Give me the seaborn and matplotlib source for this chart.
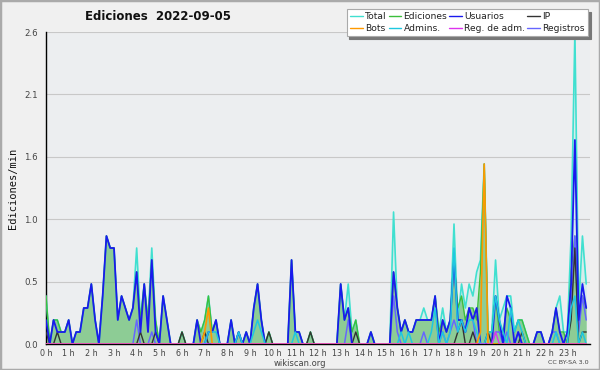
import matplotlib
matplotlib.use("Agg")
import matplotlib.pyplot as plt
import seaborn as sns
import numpy as np
from matplotlib.ticker import FixedLocator, MultipleLocator, FuncFormatter
from matplotlib.patches import Rectangle
from matplotlib.lines import Line2D

# time of each sample, minutes since 00:00 (10-minute bins)
minutes = list(range(0, 1440, 10))

# series values (edits per minute), 6 values per hour, 4 hours per line
total = [
 0.4,0.0,0.2,0.2,0.1,0.1, 0.2,0.0,0.1,0.1,0.3,0.3, 0.5,0.2,0.0,0.4,0.9,0.8, 0.8,0.2,0.4,0.3,0.2,0.3,
 0.8,0.2,0.5,0.2,0.8,0.2, 0.0,0.4,0.2,0.0,0.0,0.0, 0.1,0.0,0.0,0.0,0.2,0.1, 0.2,0.4,0.1,0.2,0.0,0.0,
 0.0,0.2,0.0,0.1,0.0,0.1, 0.0,0.3,0.5,0.2,0.0,0.1, 0.0,0.0,0.0,0.0,0.0,0.7, 0.1,0.1,0.0,0.0,0.1,0.0,
 0.0,0.0,0.0,0.0,0.0,0.0, 0.5,0.2,0.5,0.1,0.2,0.0, 0.0,0.0,0.1,0.0,0.0,0.0, 0.0,0.0,1.1,0.3,0.1,0.2,
 0.1,0.1,0.2,0.2,0.3,0.2, 0.2,0.4,0.1,0.3,0.1,0.2, 1.0,0.2,0.5,0.3,0.5,0.4, 0.6,0.7,1.5,0.1,0.1,0.7,
 0.2,0.3,0.4,0.4,0.1,0.2, 0.2,0.1,0.0,0.0,0.1,0.1, 0.0,0.0,0.1,0.3,0.4,0.1, 0.1,0.9,2.6,0.3,0.9,0.5,
]
edits = [
 0.4,0.0,0.2,0.2,0.1,0.1, 0.2,0.0,0.1,0.1,0.3,0.3, 0.5,0.2,0.0,0.4,0.9,0.8, 0.8,0.2,0.4,0.3,0.2,0.3,
 0.6,0.2,0.5,0.2,0.7,0.2, 0.0,0.4,0.2,0.0,0.0,0.0, 0.1,0.0,0.0,0.0,0.2,0.1, 0.2,0.4,0.1,0.2,0.0,0.0,
 0.0,0.2,0.0,0.1,0.0,0.1, 0.0,0.3,0.5,0.2,0.0,0.1, 0.0,0.0,0.0,0.0,0.0,0.7, 0.1,0.1,0.0,0.0,0.1,0.0,
 0.0,0.0,0.0,0.0,0.0,0.0, 0.5,0.2,0.3,0.1,0.2,0.0, 0.0,0.0,0.1,0.0,0.0,0.0, 0.0,0.0,0.6,0.3,0.1,0.2,
 0.1,0.1,0.2,0.2,0.2,0.2, 0.2,0.4,0.1,0.2,0.1,0.2, 0.7,0.3,0.4,0.2,0.3,0.3, 0.2,0.6,1.5,0.1,0.1,0.4,
 0.1,0.1,0.3,0.2,0.1,0.2, 0.2,0.1,0.0,0.0,0.1,0.1, 0.0,0.0,0.1,0.3,0.1,0.1, 0.0,0.6,0.9,0.2,0.4,0.3,
]
users = [
 0.2,0.0,0.2,0.1,0.1,0.1, 0.2,0.0,0.1,0.1,0.3,0.3, 0.5,0.2,0.0,0.4,0.9,0.8, 0.8,0.2,0.4,0.3,0.2,0.3,
 0.6,0.1,0.5,0.1,0.7,0.1, 0.0,0.4,0.2,0.0,0.0,0.0, 0.0,0.0,0.0,0.0,0.2,0.0, 0.0,0.1,0.1,0.2,0.0,0.0,
 0.0,0.2,0.0,0.1,0.0,0.1, 0.0,0.3,0.5,0.2,0.0,0.0, 0.0,0.0,0.0,0.0,0.0,0.7, 0.1,0.1,0.0,0.0,0.0,0.0,
 0.0,0.0,0.0,0.0,0.0,0.0, 0.5,0.2,0.3,0.0,0.0,0.0, 0.0,0.0,0.1,0.0,0.0,0.0, 0.0,0.0,0.6,0.3,0.1,0.2,
 0.1,0.1,0.2,0.2,0.2,0.2, 0.2,0.4,0.0,0.2,0.1,0.2, 0.7,0.2,0.2,0.1,0.3,0.2, 0.3,0.0,0.0,0.0,0.0,0.4,
 0.2,0.0,0.4,0.3,0.0,0.1, 0.0,0.0,0.0,0.0,0.1,0.1, 0.0,0.0,0.1,0.3,0.1,0.0, 0.1,0.5,1.7,0.2,0.5,0.3,
]
ip = [
 0.1,0.0,0.0,0.1,0.0,0.0, 0.0,0.0,0.0,0.0,0.0,0.0, 0.0,0.0,0.0,0.0,0.0,0.0, 0.0,0.0,0.0,0.0,0.0,0.0,
 0.0,0.1,0.0,0.0,0.0,0.1, 0.0,0.0,0.0,0.0,0.0,0.0, 0.1,0.0,0.0,0.0,0.0,0.0, 0.1,0.0,0.0,0.0,0.0,0.0,
 0.0,0.0,0.0,0.0,0.0,0.0, 0.0,0.0,0.0,0.0,0.0,0.1, 0.0,0.0,0.0,0.0,0.0,0.0, 0.0,0.0,0.0,0.0,0.1,0.0,
 0.0,0.0,0.0,0.0,0.0,0.0, 0.0,0.0,0.0,0.0,0.1,0.0, 0.0,0.0,0.0,0.0,0.0,0.0, 0.0,0.0,0.0,0.0,0.0,0.0,
 0.0,0.0,0.0,0.0,0.0,0.0, 0.0,0.0,0.0,0.0,0.0,0.0, 0.0,0.1,0.2,0.0,0.0,0.1, 0.0,0.0,0.0,0.1,0.0,0.0,
 0.0,0.0,0.0,0.0,0.0,0.0, 0.1,0.0,0.0,0.0,0.0,0.0, 0.0,0.0,0.0,0.0,0.0,0.0, 0.0,0.2,0.8,0.0,0.1,0.1,
]
bots = [
 0.0,0.0,0.0,0.0,0.0,0.0, 0.0,0.0,0.0,0.0,0.0,0.0, 0.0,0.0,0.0,0.0,0.0,0.0, 0.0,0.0,0.0,0.0,0.0,0.0,
 0.0,0.0,0.0,0.0,0.0,0.0, 0.0,0.0,0.0,0.0,0.0,0.0, 0.0,0.0,0.0,0.0,0.0,0.0, 0.1,0.3,0.0,0.0,0.0,0.0,
 0.0,0.0,0.0,0.0,0.0,0.0, 0.0,0.0,0.0,0.0,0.0,0.0, 0.0,0.0,0.0,0.0,0.0,0.0, 0.0,0.0,0.0,0.0,0.0,0.0,
 0.0,0.0,0.0,0.0,0.0,0.0, 0.0,0.0,0.0,0.0,0.0,0.0, 0.0,0.0,0.0,0.0,0.0,0.0, 0.0,0.0,0.0,0.0,0.0,0.0,
 0.0,0.0,0.0,0.0,0.0,0.0, 0.0,0.0,0.0,0.0,0.0,0.0, 0.0,0.0,0.0,0.0,0.0,0.0, 0.0,0.1,1.5,0.0,0.0,0.0,
 0.0,0.0,0.0,0.0,0.0,0.0, 0.0,0.0,0.0,0.0,0.0,0.0, 0.0,0.0,0.0,0.0,0.0,0.0, 0.0,0.0,0.0,0.0,0.0,0.0,
]
admins = [
 0.0,0.0,0.0,0.0,0.0,0.0, 0.0,0.0,0.0,0.0,0.0,0.0, 0.0,0.0,0.0,0.0,0.0,0.0, 0.0,0.0,0.0,0.0,0.0,0.0,
 0.0,0.0,0.0,0.0,0.0,0.0, 0.0,0.0,0.0,0.0,0.0,0.0, 0.0,0.0,0.0,0.0,0.0,0.0, 0.0,0.1,0.1,0.1,0.0,0.0,
 0.0,0.0,0.0,0.1,0.0,0.0, 0.0,0.1,0.2,0.1,0.0,0.0, 0.0,0.0,0.0,0.0,0.0,0.0, 0.1,0.0,0.0,0.0,0.0,0.0,
 0.0,0.0,0.0,0.0,0.0,0.0, 0.0,0.0,0.0,0.0,0.0,0.0, 0.0,0.0,0.0,0.0,0.0,0.0, 0.0,0.0,0.0,0.0,0.1,0.0,
 0.1,0.0,0.0,0.0,0.0,0.0, 0.1,0.3,0.0,0.1,0.0,0.1, 0.8,0.1,0.2,0.1,0.2,0.2, 0.1,0.0,0.0,0.1,0.1,0.4,
 0.2,0.1,0.0,0.3,0.1,0.2, 0.1,0.0,0.0,0.0,0.0,0.0, 0.0,0.0,0.0,0.1,0.0,0.0, 0.0,0.3,0.4,0.0,0.1,0.0,
]
reg_adm = [
 0.0,0.0,0.0,0.0,0.0,0.0, 0.0,0.0,0.0,0.0,0.0,0.0, 0.0,0.0,0.0,0.0,0.0,0.0, 0.0,0.0,0.0,0.0,0.0,0.0,
 0.0,0.0,0.0,0.0,0.0,0.0, 0.0,0.0,0.0,0.0,0.0,0.0, 0.0,0.0,0.0,0.0,0.0,0.0, 0.0,0.0,0.0,0.0,0.0,0.0,
 0.0,0.0,0.0,0.0,0.0,0.0, 0.0,0.0,0.0,0.0,0.0,0.0, 0.0,0.0,0.0,0.0,0.0,0.0, 0.0,0.0,0.0,0.0,0.0,0.0,
 0.0,0.0,0.0,0.0,0.0,0.0, 0.0,0.0,0.0,0.0,0.0,0.0, 0.0,0.0,0.0,0.0,0.0,0.0, 0.0,0.0,0.0,0.0,0.0,0.0,
 0.0,0.0,0.0,0.0,0.0,0.0, 0.0,0.0,0.0,0.0,0.0,0.0, 0.0,0.0,0.0,0.0,0.0,0.0, 0.0,0.0,0.0,0.0,0.0,0.1,
 0.0,0.0,0.0,0.0,0.0,0.0, 0.0,0.0,0.0,0.0,0.0,0.0, 0.0,0.0,0.0,0.0,0.0,0.0, 0.0,0.0,0.0,0.0,0.0,0.0,
]
registros = [
 0.0,0.0,0.0,0.0,0.0,0.0, 0.0,0.0,0.0,0.0,0.0,0.0, 0.0,0.0,0.0,0.0,0.0,0.0, 0.0,0.0,0.0,0.0,0.0,0.0,
 0.2,0.0,0.0,0.0,0.1,0.0, 0.0,0.0,0.0,0.0,0.0,0.0, 0.0,0.0,0.0,0.0,0.0,0.0, 0.0,0.0,0.0,0.0,0.0,0.0,
 0.0,0.0,0.0,0.0,0.0,0.0, 0.0,0.0,0.0,0.0,0.0,0.0, 0.0,0.0,0.0,0.0,0.0,0.0, 0.0,0.0,0.0,0.0,0.0,0.0,
 0.0,0.0,0.0,0.0,0.0,0.0, 0.0,0.0,0.2,0.0,0.0,0.0, 0.0,0.0,0.0,0.0,0.0,0.0, 0.0,0.0,0.4,0.1,0.0,0.0,
 0.0,0.0,0.0,0.0,0.1,0.0, 0.0,0.0,0.0,0.1,0.0,0.1, 0.2,0.1,0.2,0.1,0.3,0.2, 0.0,0.0,0.0,0.0,0.0,0.1,
 0.1,0.0,0.1,0.0,0.0,0.1, 0.0,0.0,0.0,0.0,0.0,0.0, 0.0,0.0,0.1,0.1,0.0,0.0, 0.0,0.3,0.9,0.1,0.4,0.2,
]

hour_labels = [f"{h} h" for h in range(24)]
y_ticks = [0.0, 0.52, 1.04, 1.56, 2.08, 2.6]

title_text = "Ediciones  2022-09-05"
ylabel_text = "Ediciones/min"

series = [
    ("Total", total, "#40e0d0"),
    ("Bots", bots, "#ff9900"),
    ("Ediciones", edits, "#3cbf3c"),
    ("Admins.", admins, "#1ec8e0"),
    ("Usuarios", users, "#1a1aee"),
    ("Reg. de adm.", reg_adm, "#dd33ee"),
    ("IP", ip, "#333333"),
    ("Registros", registros, "#6666ff"),
]
colors = {n: c for n, _, c in series}

sns.set_theme(style="white")
plt.rcParams['font.family'] = ['DejaVu Sans']

fig = plt.figure(figsize=(6, 3.7), dpi=100, facecolor="#f0f0f0")
ax = fig.add_axes([46/600, 26/370, 544/600, 312/370])
ax.set_facecolor("#eceef0")

# fills
ax.fill_between(minutes, total, color=colors["Total"], alpha=0.13, lw=0, zorder=1)
ax.fill_between(minutes, edits, color="#5db85d", alpha=0.6, lw=0, zorder=2)

# lines (drawing order)
draw_order = [("Total", total, 1.2), ("Ediciones", edits, 1.0), ("Registros", registros, 1.1),
              ("IP", ip, 1.0), ("Usuarios", users, 1.3), ("Admins.", admins, 1.1),
              ("Bots", bots, 1.2), ("Reg. de adm.", reg_adm, 1.0)]
for k, (name, vals, lw) in enumerate(draw_order):
    sns.lineplot(x=minutes, y=vals, color=colors[name], lw=lw, ax=ax, zorder=3 + k,
                 estimator=None, legend=False)

ax.set_xlim(0, 1440)
ax.set_ylim(0, 2.6)

ax.xaxis.set_major_locator(FixedLocator(list(range(0, 1440, 60))))
ax.xaxis.set_minor_locator(MultipleLocator(15))
ax.set_xticklabels(hour_labels)
ax.yaxis.set_major_locator(FixedLocator(y_ticks))
ax.yaxis.set_minor_locator(MultipleLocator(0.13))
ax.yaxis.set_major_formatter(FuncFormatter(lambda v, p: f"{v:.1f}"))

ax.tick_params(axis="both", which="major", direction="out", width=0.9,
               color="black", labelcolor="#444444")
ax.tick_params(axis="x", which="major", labelsize=5.8, length=3, pad=0.3)
ax.tick_params(axis="y", which="major", labelsize=6.2, length=5, pad=1.0)
ax.tick_params(axis="both", which="minor", direction="out", length=2.5, width=0.8, color="black")

for s in ["top", "right"]:
    ax.spines[s].set_visible(False)
for s in ["left", "bottom"]:
    ax.spines[s].set_color("black")
    ax.spines[s].set_linewidth(1.0)

ax.grid(axis="y", which="major", color="#c8c8c8", lw=0.8)
ax.set_axisbelow(True)
ax.set_xlabel("")
ax.set_ylabel(ylabel_text, family="DejaVu Sans Mono", fontsize=7.5, color="#111111", labelpad=4)

fig.text(85/600, 1 - 17/370, title_text, fontsize=8.5, fontweight="bold", color="#111111",
         ha="left", va="center")
fig.text(300/600, 1 - 363/370, "wikiscan.org", fontsize=6.0, color="#444444", ha="center", va="center")
fig.text(589/600, 1 - 363/370, "CC BY-SA 3.0", fontsize=4.6, color="#444444", ha="right", va="center")

handles = [Line2D([0], [0], color=c, lw=1.0) for _, _, c in series]
labels = [n for n, _, _ in series]
leg = ax.legend(handles, labels, ncol=4, loc="upper right",
                bbox_to_anchor=(588/600, 1 - 9/370), bbox_transform=fig.transFigure,
                fontsize=6.6, frameon=True, fancybox=False, shadow={"color": "#777777", "alpha": 1.0},
                handlelength=1.4, handletextpad=0.25, columnspacing=0.2, borderpad=0.35,
                labelspacing=0.3, borderaxespad=0)
leg.get_frame().set_edgecolor("#aaaaaa")
leg.get_frame().set_facecolor("white")
leg.get_frame().set_linewidth(0.8)
leg.set_zorder(20)
for t in leg.get_texts():
    t.set_color("#222222")

fig.add_artist(Rectangle((0, 0), 1, 1, transform=fig.transFigure, fill=False,
                         edgecolor="#aaaaaa", lw=2.5))

fig.savefig("out.png", dpi=100, facecolor=fig.get_facecolor())
